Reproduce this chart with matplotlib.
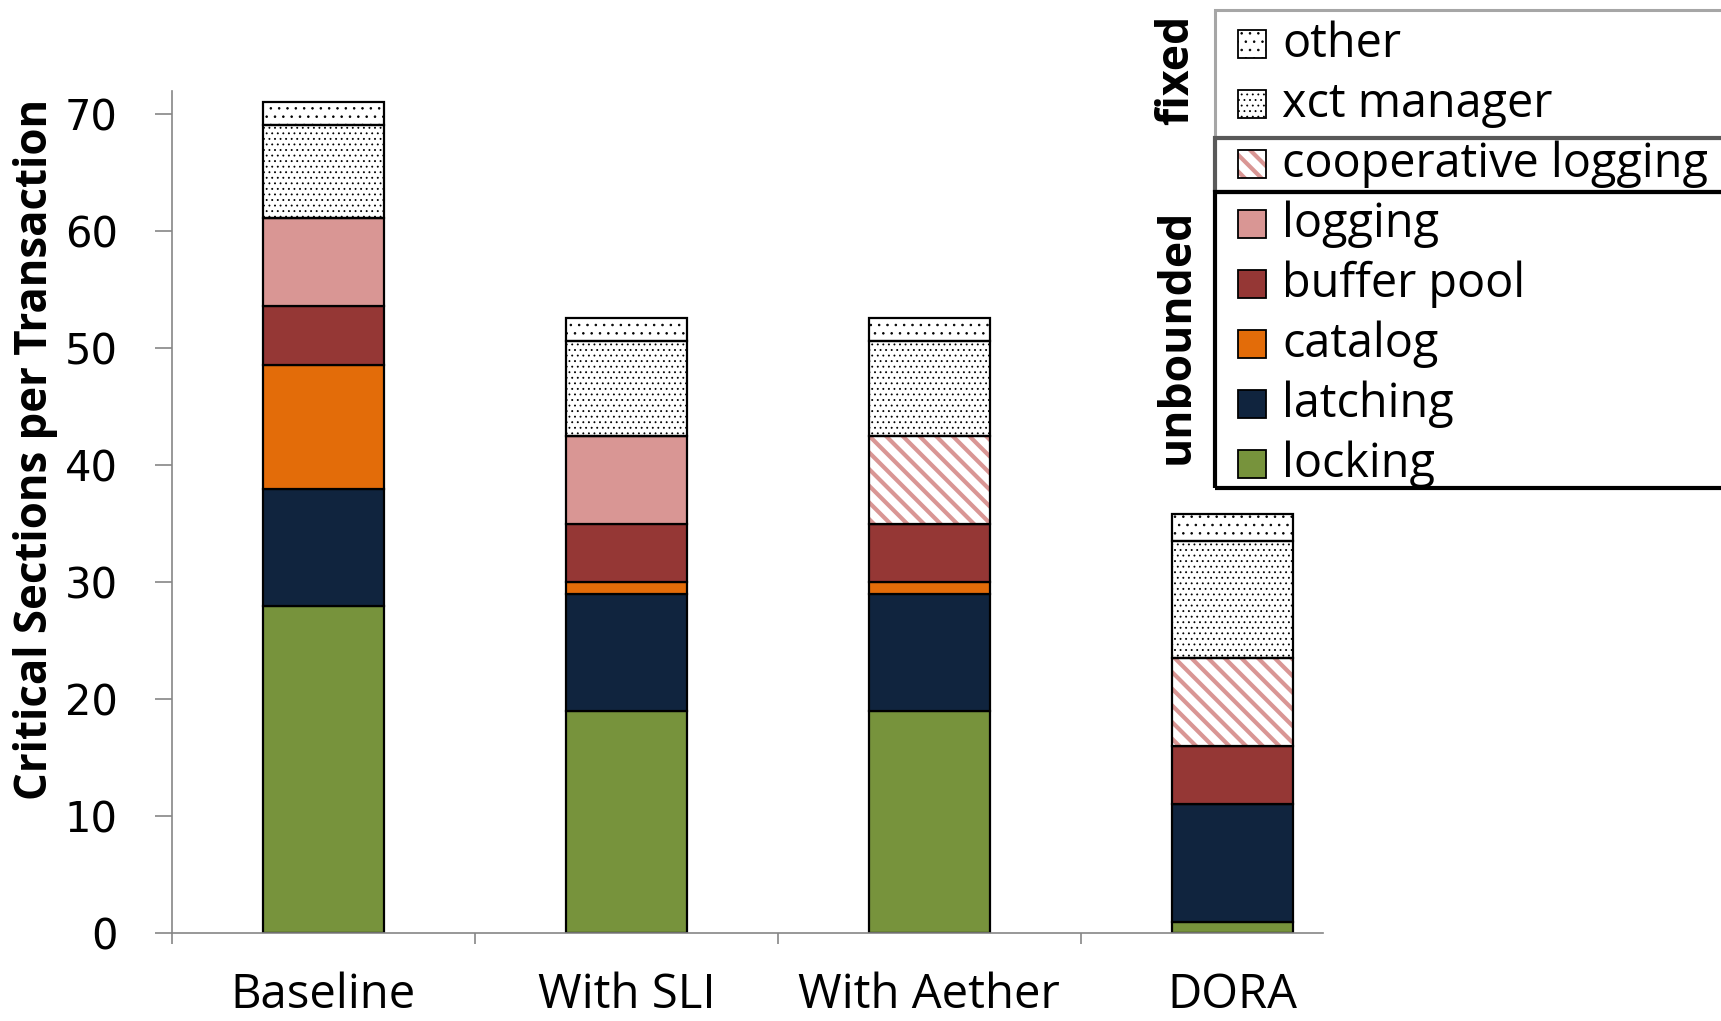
import numpy as np
import matplotlib
matplotlib.use("Agg")
import matplotlib.pyplot as plt
from matplotlib.patches import Rectangle

# data
categories = ['Baseline', 'With SLI', 'With Aether', 'DORA']
locking = [28.0, 19.0, 19.0, 0.95]
latching = [10.0, 10.0, 10.0, 10.05]
catalog = [10.6, 1.0, 1.0, 0.0]
buffer_pool = [5.0, 5.0, 5.0, 5.0]
logging = [7.5, 7.5, 0.0, 0.0]
coop_logging = [0.0, 0.0, 7.5, 7.5]
xct_manager = [8.0, 8.1, 8.1, 10.0]
other = [2.0, 2.0, 2.0, 2.3]

# stacking order, bottom to top: (name, values, face, hatch, hatch colour)
series = [
    ('locking', locking, '#77933C', None, None),
    ('latching', latching, '#10243E', None, None),
    ('catalog', catalog, '#E36C09', None, None),
    ('buffer pool', buffer_pool, '#953735', None, None),
    ('logging', logging, '#D99694', None, None),
    ('cooperative logging', coop_logging, 'white', '\\\\', '#D99694'),
    ('xct manager', xct_manager, 'white', '...', 'black'),
    ('other', other, 'white', '..', 'black'),
]
groups = [('fixed', ['other', 'xct manager'], '#A6A6A6'),
          (None, ['cooperative logging'], '#595959'),
          ('unbounded', ['logging', 'buffer pool', 'catalog', 'latching', 'locking'], 'black')]

W, H = 1721, 1021
fig = plt.figure(figsize=(W / 100, H / 100), dpi=100)
ax = fig.add_axes([172 / W, 1 - 933 / H, (1323 - 172) / W, (933 - 91) / H])

TXT = 'Open Sans'
x = np.arange(len(categories))
bw = 0.4


def hatch_lw(patches, lw):
    for p in patches:
        if hasattr(p, 'set_hatch_linewidth'):
            p.set_hatch_linewidth(lw)


def lw_for(hatch):
    return 3.0 if hatch and '\\' in hatch else 0.6


bottom = np.zeros(len(categories))
for name, vals, face, hatch, hcol in series:
    vals = np.array(vals)
    lw_h = lw_for(hatch)
    with plt.rc_context({'hatch.linewidth': lw_h}):
        if hatch is None:
            ax.bar(x, vals, bw, bottom=bottom, color=face, edgecolor='black', linewidth=1.6, zorder=2)
        else:
            b = ax.bar(x, vals, bw, bottom=bottom, color=face, edgecolor=hcol, linewidth=0,
                       hatch=hatch, zorder=2)
            hatch_lw(b, lw_h)
            ax.bar(x, vals, bw, bottom=bottom, color='none', edgecolor='black', linewidth=1.6, zorder=3)
    bottom += vals

ax.set_xlim(-0.5, 3.3)
ax.set_ylim(0, 72)
ax.set_yticks(np.arange(0, 71, 10))
ax.tick_params(axis='y', direction='out', length=12, width=1.2, color='#868686', pad=27,
               labelsize=30)
for lab in ax.get_yticklabels():
    lab.set_fontfamily('DejaVu Sans')

ax.set_xticks(x)
ax.set_xticklabels(categories, fontsize=34, fontfamily=TXT)
ax.tick_params(axis='x', which='major', length=0, pad=28)
ax.set_xticks(np.arange(-0.5, 3.0, 1.0), minor=True)
ax.tick_params(axis='x', which='minor', direction='out', length=8, width=1.2, color='#868686')

for s in ['top', 'right']:
    ax.spines[s].set_visible(False)
for s in ['left', 'bottom']:
    ax.spines[s].set_color('#868686')
    ax.spines[s].set_linewidth(1.2)

fig.text(36 / W, 1 - 449 / H, 'Critical Sections per Transaction', rotation=90,
         ha='center', va='center', fontsize=31.5, fontweight='bold', fontfamily=TXT)


# legend, drawn by hand in pixel coordinates
def fx(px):
    return px / W


def fy(py):
    return 1 - py / H


style = {name: (face, hatch, hcol) for name, vals, face, hatch, hcol in series}
box_edges = [(10, 138), (138, 192), (192, 488)]
row_y = 44.0
row_step = 60.0
for (glabel, names, gcol), (top, bot) in zip(groups, box_edges):
    lw = 2.2 if gcol == '#A6A6A6' else 3.0
    fig.add_artist(Rectangle((fx(1215), fy(bot)), fx(1740) - fx(1215), fy(top) - fy(bot),
                             transform=fig.transFigure, facecolor='none', edgecolor=gcol,
                             linewidth=lw, zorder=5 if gcol != '#A6A6A6' else 4))
    if glabel:
        fig.text(fx(1177), fy((top + bot) / 2 - 4), glabel, rotation=90, ha='center', va='center',
                 fontsize=32, fontweight='bold', fontfamily=TXT)
    for name in names:
        face, hatch, hcol = style[name]
        lw_h = lw_for(hatch)
        with plt.rc_context({'hatch.linewidth': lw_h}):
            sw = Rectangle((fx(1238), fy(row_y + 14)), fx(1266) - fx(1238), fy(row_y - 14) - fy(row_y + 14),
                           transform=fig.transFigure, facecolor=face,
                           edgecolor=hcol if hatch else 'black',
                           linewidth=0 if hatch else 1.3, hatch=hatch, zorder=6)
            hatch_lw([sw], lw_h)
            fig.add_artist(sw)
        if hatch:
            fig.add_artist(Rectangle((fx(1238), fy(row_y + 14)), fx(1266) - fx(1238),
                                     fy(row_y - 14) - fy(row_y + 14), transform=fig.transFigure,
                                     facecolor='none', edgecolor='black', linewidth=1.3, zorder=7))
        fig.text(fx(1282), fy(row_y), name, ha='left', va='center', fontsize=33.7, fontfamily=TXT)
        row_y += row_step

fig.savefig('out.png', dpi=100)
